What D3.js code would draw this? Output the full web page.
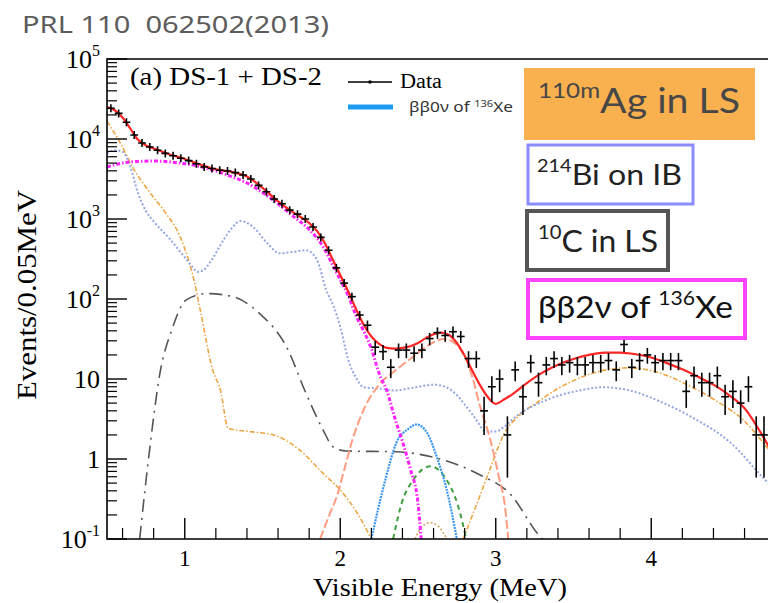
<!DOCTYPE html>
<html>
<head>
<meta charset="utf-8">
<script src="https://cdn.jsdelivr.net/npm/d3@7"></script>
<style>
  body { margin: 0; background: #fff; }
  svg { display: block; }
</style>
</head>
<body>
<svg width="768" height="603"></svg>
<script>

// Data points, one per 0.05 MeV bin
var binCenters = [0.525,0.575,0.625,0.675,0.725,0.775,0.825,0.875,0.925,0.975,
  1.025,1.075,1.125,1.175,1.225,1.275,1.325,1.375,1.425,1.475,
  1.525,1.575,1.625,1.675,1.725,1.775,1.825,1.875,1.925,1.975,
  2.025,2.075,2.125,2.175,2.225,2.275,2.325,2.375,2.425,2.475,
  2.525,2.575,2.625,2.675,2.725,2.775,2.825,2.875,2.925,2.975,
  3.025,3.075,3.125,3.175,3.225,3.275,3.325,3.375,3.425,3.475,
  3.525,3.575,3.625,3.675,3.725,3.775,3.825,3.875,3.925,3.975,
  4.025,4.075,4.125,4.175,4.225,4.275,4.325,4.375,4.425,4.475,
  4.525,4.575,4.625,4.675,4.725];
var dataCounts = [24200,20900,16200,11200,8900,7940,7240,6610,6170,5750,
  5370,4900,4470,4270,4070,3980,3800,3550,3160,2630,
  2190,1780,1550,1290,1150,1000,794,589,407,245,
  158,107,63,47,25,22,14,23,23,21,
  23,32,38,35,39,34,18,18,4,8,
  10,2,13,6,16,9,15,18,15,16,
  15,15,16,16,17,13,27,14,17,20,
  16,17,17,17,7,11,9,9,11,6,
  7,5,8,2,2];

// Total fit (red)
var totalE = [0.5,0.55,0.6,0.65,0.7,0.75,0.8,0.9,1.0,1.1,1.2,1.3,1.4,1.5,1.6,1.7,1.8,1.85,1.9,1.95,
  2.0,2.05,2.1,2.15,2.2,2.25,2.3,2.35,2.4,2.45,2.5,2.55,2.6,2.65,2.7,2.75,2.8,2.85,2.9,2.95,
  3.0,3.05,3.1,3.2,3.3,3.4,3.5,3.6,3.7,3.8,3.9,4.0,4.1,4.2,4.3,4.4,4.5,4.6,4.7,4.8];
var totalV = [25100,22900,18600,13500,9770,8320,7590,6460,5620,4790,4170,3890,3390,2450,1660,1200,890,710,500,316,
  200,126,76,48,34,27.5,24.5,24,24.5,25.7,28.2,32.4,36.3,38,35.5,28.2,19.5,12.6,8.3,5.9,
  4.9,5.5,6.3,8.9,12,15.1,17.8,20,21.4,21.4,20.4,18.6,15.8,13.2,10.7,8.5,6.3,4.3,2.2,1.0];

// bb2v of 136Xe (magenta)
var bb2nE = [0.5,0.6,0.7,0.8,0.9,1.0,1.1,1.2,1.3,1.4,1.5,1.6,1.7,1.8,1.9,1.95,2.0,2.05,2.1,2.15,2.2,2.25,2.3,2.35,2.4,2.45,2.5,2.52];
var bb2nV = [4470,5010,5250,5310,5190,4900,4520,3980,3390,2820,2140,1550,1070,741,417,269,174,112,63,40,24,11.7,7.1,3.3,1.66,0.76,0.28,0.1];

// 214Bi on IB (light blue dotted)
var bi214E = [0.5,0.55,0.6,0.65,0.7,0.75,0.8,0.9,1.0,1.05,1.08,1.12,1.16,1.25,1.3,1.36,1.44,1.53,1.61,1.7,1.78,1.85,1.91,1.96,
  2.0,2.05,2.1,2.15,2.25,2.35,2.47,2.6,2.68,2.75,2.8,2.86,2.94,3.0,3.05,3.13,3.33,3.54,3.69,3.86,4.08,4.29,4.51,4.72,4.8];
var bi214V = [6610,7240,6920,4470,2090,1260,933,575,331,251,219,229,282,550,759,944,794,501,372,389,407,309,129,79,
  45,17.8,10.5,7.9,7.6,7.2,7.8,8.5,7.9,6.3,4.8,3.4,2.2,2.2,2.5,3.4,5.5,7.2,7.9,7.2,5.0,3.1,1.6,0.58,0.4];

// orange dash-dot, low energy part
var lowE = [0.5,0.58,0.67,0.78,0.88,0.97,1.03,1.06,1.10,1.18,1.23,1.28,1.42,1.57,1.74,1.89,2.0,2.11,2.2];
var lowV = [16600,9330,4270,2090,1170,603,282,170,72,12.9,7.2,2.4,2.2,2.0,1.29,0.66,0.41,0.21,0.1];

// orange dash-dot, high energy part
var highE = [2.79,2.88,2.96,3.05,3.15,3.26,3.4,3.55,3.7,3.86,4.03,4.23,4.44,4.59,4.72,4.8];
var highV = [0.1,0.28,0.72,2.0,3.5,5.0,7.6,10.5,12.9,13.8,12.3,8.5,5.0,3.1,1.6,1.0];

// 110mAg in LS (salmon long dash)
var agE = [1.87,1.93,1.98,2.03,2.08,2.15,2.25,2.35,2.45,2.55,2.62,2.67,2.72,2.77,2.81,2.85,2.9,2.96,3.02,3.06,3.08];
var agV = [0.1,0.2,0.35,0.79,1.78,4.1,8.5,12.6,17.8,25.1,30.2,31.6,29.5,24.0,17.4,10.5,4.5,1.9,0.6,0.25,0.1];

// 10C in LS (grey long dash-dot)
var c10E = [0.71,0.776,0.84,0.916,1.01,1.14,1.31,1.48,1.655,1.78,1.89,1.955,2.04,2.36,2.64,2.9,3.09,3.28,3.3];
var c10V = [0.1,1.41,11.7,40.7,97.7,117,107,66,25.1,6.6,2.3,1.41,1.26,1.23,1.0,0.63,0.37,0.11,0.1];

// bb0v of 136Xe (blue)
var bb0nE = [2.2,2.29,2.36,2.44,2.49,2.56,2.62,2.685,2.75];
var bb0nV = [0.1,0.55,1.58,2.4,2.7,2.1,1.07,0.41,0.1];

// green dashed and small orange dotted bump
var greenE = [2.34,2.395,2.47,2.58,2.67,2.76,2.81];
var greenV = [0.1,0.28,0.55,0.81,0.6,0.25,0.1];
var bumpE = [2.48,2.53,2.58,2.63,2.685];
var bumpV = [0.1,0.145,0.16,0.145,0.1];

// Axis ticks
var xTicks = [1, 2, 3, 4];
var yTicks = [0.1, 1, 10, 100, 1000, 10000, 100000];
var yTickBase = ['10', '1', '10', '10', '10', '10', '10'];
var yTickExp = ['-1', '', '', '2', '3', '4', '5'];

var svg = d3.select('svg');
var plotLeft = 107, plotTop = 59, plotBottom = 539;
var x = d3.scaleLinear().domain([0.5, 4.8]).range([plotLeft, plotLeft + 4.3 * 155.5]);
var y = d3.scaleLog().domain([0.1, 1e5]).range([plotBottom, plotTop]);
var plotRight = x(4.8);

// Header
svg.append('text')
    .attr('x', 22).attr('y', 33)
    .attr('font-family', 'Noto Sans').attr('font-size', 24)
    .attr('fill', '#5c5c5c')
    .attr('textLength', 307).attr('lengthAdjust', 'spacingAndGlyphs')
    .style('white-space', 'pre')
    .text('PRL 110  062502(2013)');

svg.append('clipPath').attr('id', 'clip')
  .append('rect')
    .attr('x', plotLeft).attr('y', plotTop)
    .attr('width', plotRight - plotLeft).attr('height', plotBottom - plotTop);

var plot = svg.append('g').attr('clip-path', 'url(#clip)');

function drawCurve(es, vs, color, width, dash) {
  var line = d3.line()
      .x(d => x(d[0]))
      .y(d => y(d[1]))
      .curve(d3.curveMonotoneX);
  plot.append('path')
      .attr('d', line(d3.zip(es, vs)))
      .attr('fill', 'none')
      .attr('stroke', color)
      .attr('stroke-width', width)
      .attr('stroke-dasharray', dash);
}

drawCurve(c10E, c10V, '#555555', 1.6, '13,6,2,6');
drawCurve(lowE, lowV, '#eea444', 1.6, '5,2,1.5,2');
drawCurve(highE, highV, '#eea444', 1.6, '5,2,1.5,2');
drawCurve(bi214E, bi214V, '#94a6e2', 2, '2,2');
drawCurve(agE, agV, '#ff9c80', 2, '9,3');
drawCurve(greenE, greenV, '#3ea03e', 2, '5,4');
drawCurve(bumpE, bumpV, '#d8a45a', 1.6, '2,2');
drawCurve(bb0nE, bb0nV, '#3a96f0', 2.2, '2,1');
drawCurve(bb2nE, bb2nV, '#ff22ff', 3, '4,2,1.5,2');
drawCurve(totalE, totalV, '#ff2626', 2.2, null);

// Data crosses with sqrt(N) errors
var pts = plot.selectAll('.pt').data(d3.zip(binCenters, dataCounts))
  .enter().append('g').attr('class', 'pt');
pts.append('line')
    .attr('x1', d => x(d[0] - 0.025)).attr('x2', d => x(d[0] + 0.025))
    .attr('y1', d => y(d[1])).attr('y2', d => y(d[1]));
pts.append('line')
    .attr('x1', d => x(d[0])).attr('x2', d => x(d[0]))
    .attr('y1', d => Math.min(y(d[1] + Math.sqrt(d[1])), y(d[1]) - 4))
    .attr('y2', d => Math.max(y(Math.max(d[1] - Math.sqrt(d[1]), 0.05)), y(d[1]) + 4));
pts.selectAll('line').attr('stroke', '#000').attr('stroke-width', 1.6);

// Frame and ticks
var axes = svg.append('g').attr('stroke', '#000').attr('fill', 'none');
axes.append('path')
    .attr('d', 'M' + plotRight + ',' + plotTop + 'H' + plotLeft + 'V' + plotBottom + 'H' + plotRight)
    .attr('stroke-width', 1.6);

var yMinor = [];
yTicks.slice(0, -1).forEach(function(t) {
  for (var k = 2; k <= 9; k++) yMinor.push(t * k);
});
axes.selectAll('.ymaj').data(yTicks).enter().append('line')
    .attr('x1', plotLeft).attr('x2', plotLeft + 20)
    .attr('y1', d => y(d)).attr('y2', d => y(d)).attr('stroke-width', 1.4);
axes.selectAll('.ymin').data(yMinor).enter().append('line')
    .attr('x1', plotLeft).attr('x2', plotLeft + 10)
    .attr('y1', d => y(d)).attr('y2', d => y(d)).attr('stroke-width', 1.2);

var xMinor = d3.range(6, 48, 2).map(d => d / 10).filter(d => Math.abs(d - Math.round(d)) > 0.01);
axes.selectAll('.xmaj').data(xTicks).enter().append('line')
    .attr('x1', d => x(d)).attr('x2', d => x(d))
    .attr('y1', plotBottom).attr('y2', plotBottom - 21).attr('stroke-width', 1.4);
axes.selectAll('.xmin').data(xMinor).enter().append('line')
    .attr('x1', d => x(d)).attr('x2', d => x(d))
    .attr('y1', plotBottom).attr('y2', plotBottom - 11).attr('stroke-width', 1.2);

// Tick labels
var serif = 'Liberation Serif';
svg.selectAll('.xl').data(xTicks).enter().append('text')
    .attr('x', d => x(d)).attr('y', 566)
    .attr('text-anchor', 'middle')
    .attr('font-family', serif).attr('font-size', 23)
    .text(d => d);

yTicks.forEach(function(t, i) {
  var txt = svg.append('text')
      .attr('x', 100).attr('y', y(t) + 9)
      .attr('text-anchor', 'end')
      .attr('font-family', serif).attr('font-size', 26);
  txt.append('tspan').text(yTickBase[i]);
  if (yTickExp[i]) {
    txt.append('tspan').attr('dy', -12).attr('font-size', 16).text(yTickExp[i]);
  }
});

// Axis titles
svg.append('text')
    .attr('x', 313).attr('y', 596)
    .attr('font-family', serif).attr('font-size', 26)
    .attr('textLength', 254).attr('lengthAdjust', 'spacingAndGlyphs')
    .text('Visible Energy (MeV)');
svg.append('text')
    .attr('transform', 'translate(36,400) rotate(-90)')
    .attr('font-family', serif).attr('font-size', 28)
    .attr('textLength', 210).attr('lengthAdjust', 'spacingAndGlyphs')
    .text('Events/0.05MeV');

svg.append('text')
    .attr('x', 130).attr('y', 85)
    .attr('font-family', serif).attr('font-size', 25)
    .attr('textLength', 192).attr('lengthAdjust', 'spacingAndGlyphs')
    .text('(a) DS-1 + DS-2');

// Legend
svg.append('line').attr('x1', 348).attr('x2', 392).attr('y1', 82).attr('y2', 82)
    .attr('stroke', '#000').attr('stroke-width', 1.4);
svg.append('circle').attr('cx', 370).attr('cy', 82).attr('r', 1.8).attr('fill', '#000');
svg.append('text')
    .attr('x', 400).attr('y', 88)
    .attr('font-family', serif).attr('font-size', 20)
    .attr('textLength', 42).attr('lengthAdjust', 'spacingAndGlyphs')
    .text('Data');
svg.append('line').attr('x1', 348).attr('x2', 393).attr('y1', 107).attr('y2', 107)
    .attr('stroke', '#1c9bf0').attr('stroke-width', 5);
var lg = svg.append('text')
    .attr('x', 409).attr('y', 112)
    .attr('font-family', 'Noto Sans').attr('font-size', 14).attr('fill', '#333')
    .attr('textLength', 104).attr('lengthAdjust', 'spacingAndGlyphs');
lg.append('tspan').text('ββ0ν of ');
lg.append('tspan').attr('font-size', 9).attr('dy', -5).text('136');
lg.append('tspan').attr('dy', 5).text('Xe');

// Boxes with labels
svg.append('rect').attr('x', 524).attr('y', 68).attr('width', 231).attr('height', 72)
    .attr('fill', '#f9b04f');
svg.append('rect').attr('x', 528).attr('y', 145).attr('width', 165).attr('height', 59)
    .attr('fill', '#fff').attr('stroke', '#8a8cff').attr('stroke-width', 3);
svg.append('rect').attr('x', 527).attr('y', 211).attr('width', 141).attr('height', 59)
    .attr('fill', '#fff').attr('stroke', '#555').attr('stroke-width', 4);
svg.append('rect').attr('x', 528).attr('y', 280).attr('width', 217).attr('height', 58)
    .attr('fill', '#fff').attr('stroke', '#ff44ff').attr('stroke-width', 4);

function boxLabel(bx, by, sup, main, before, size, supSize, width, color) {
  var t = svg.append('text')
      .attr('x', bx).attr('y', by)
      .attr('font-family', 'Lato').attr('font-size', size).attr('fill', color)
      .attr('textLength', width).attr('lengthAdjust', 'spacingAndGlyphs');
  if (before) t.append('tspan').text(before);
  t.append('tspan').attr('font-size', supSize).attr('dy', -size * 0.45).text(sup);
  t.append('tspan').attr('dy', size * 0.45).text(main);
}
boxLabel(538, 113, '110m', 'Ag in LS', '', 34, 21, 202, '#474747');
boxLabel(537, 185, '214', 'Bi on IB', '', 29, 18, 145, '#222');
boxLabel(538, 252, '10', 'C in LS', '', 30, 19, 120, '#222');
boxLabel(538, 318, '136', 'Xe', 'ββ2ν of ', 30, 19, 195, '#111');

</script>
</body>
</html>
